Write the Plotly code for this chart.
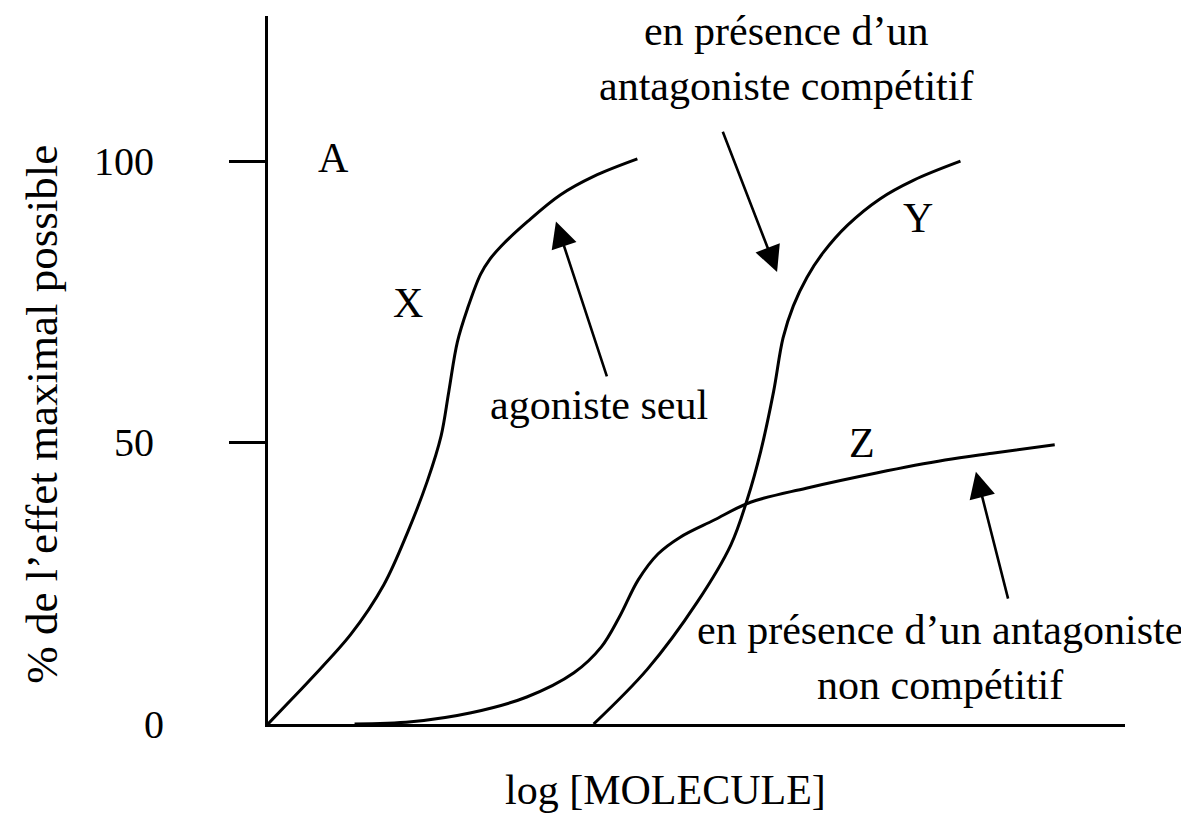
import plotly.graph_objects as go

# Curve data (x: log concentration units, y: % of maximal effect)
x_agoniste = [0.0, 0.27, 0.50, 0.97, 1.35, 1.63, 1.86, 2.02, 2.11, 2.21, 2.33, 2.48, 2.59, 2.72, 3.03, 3.41, 3.80, 4.31]
y_agoniste = [0.0, 4.3, 8.0, 16.0, 24.7, 34.1, 43.2, 51.2, 59.1, 67.9, 73.9, 79.9, 82.6, 84.9, 89.3, 94.0, 97.3, 100.4]

x_competitif = [3.80, 4.43, 5.01, 5.40, 5.59, 5.75, 5.90, 6.01, 6.13, 6.29, 6.48, 6.76, 7.14, 7.53, 8.08]
y_competitif = [0.0, 9.8, 21.7, 31.8, 39.8, 48.5, 59.1, 68.6, 74.3, 79.4, 83.8, 88.6, 93.3, 96.6, 100.0]

x_non_competitif = [1.01, 1.67, 2.37, 3.02, 3.57, 3.89, 4.10, 4.32, 4.55, 4.81, 5.20, 5.63, 6.28, 7.10, 7.90, 8.45, 9.18]
y_non_competitif = [0.0, 0.4, 2.0, 4.8, 9.1, 13.7, 19.0, 25.6, 30.2, 33.2, 36.2, 39.4, 41.9, 44.6, 46.9, 48.1, 49.6]

y_tick_vals = [0, 50, 100]
y_tick_text = ["0", "50", "100"]

FONT = "Liberation Serif"
FS = 42

fig = go.Figure()
for xs, ys in [(x_agoniste, y_agoniste), (x_competitif, y_competitif), (x_non_competitif, y_non_competitif)]:
    fig.add_trace(go.Scatter(x=xs, y=ys, mode="lines",
                             line=dict(color="black", width=3, shape="spline", smoothing=1.0),
                             showlegend=False, hoverinfo="skip"))

annotations = []
# tick labels
for v, t in zip(y_tick_vals, y_tick_text):
    annotations.append(dict(x=0, y=v, xref="x", yref="y", text=t, showarrow=False, xanchor="right",
                            yanchor="middle", xshift=-112 if t != "0" else -102,
                            font=dict(family=FONT, size=40, color="black")))

labels = [
    ("A", 0.77, 100.5), ("X", 1.63, 74.8), ("Y", 7.59, 89.9), ("Z", 6.93, 49.9),
    ("agoniste seul", 3.86, 56.7),
    ("en présence d’un<br>antagoniste compétitif", 6.05, 118.3),
    ("en présence d’un antagoniste<br>non compétitif", 7.84, 11.9),
]
for t, x, y in labels:
    annotations.append(dict(x=x, y=y, xref="x", yref="y", text=t, showarrow=False, xanchor="center", yanchor="middle",
                            font=dict(family=FONT, size=FS, color="black")))

arrows = [
    (3.36, 89.3, 3.96, 61.5),
    (5.94, 80.3, 5.30, 105.5),
    (8.26, 44.8, 8.64, 22.0),
]
for x, y, ax, ay in arrows:
    annotations.append(dict(x=x, y=y, ax=ax, ay=ay, xref="x", yref="y", axref="x", ayref="y", text="",
                            showarrow=True, arrowhead=2, arrowsize=2.0, arrowwidth=2.6, arrowcolor="black", standoff=0))

annotations.append(dict(x=0.464, y=-0.093, xref="paper", yref="paper", text="log [MOLECULE]", showarrow=False,
                        xanchor="center", yanchor="middle", font=dict(family=FONT, size=FS, color="black")))
annotations.append(dict(x=-0.2646, y=0.437, xref="paper", yref="paper", text="% de l’effet maximal possible",
                        showarrow=False, textangle=-90, xanchor="center", yanchor="middle",
                        font=dict(family=FONT, size=45, color="black")))

fig.update_layout(
    width=1181, height=806,
    margin=dict(l=260, r=64, t=8, b=90),
    paper_bgcolor="white", plot_bgcolor="white",
    annotations=annotations,
    xaxis=dict(range=[0, 10], showgrid=False, zeroline=False, showline=True, linecolor="black", linewidth=3,
               showticklabels=False, ticks=""),
    yaxis=dict(range=[0, 125.8], showgrid=False, zeroline=False, showline=True, linecolor="black", linewidth=3,
               tickvals=[50, 100], ticks="outside", ticklen=36, tickwidth=3, tickcolor="black",
               showticklabels=False),
)

fig.write_html("out.html")
